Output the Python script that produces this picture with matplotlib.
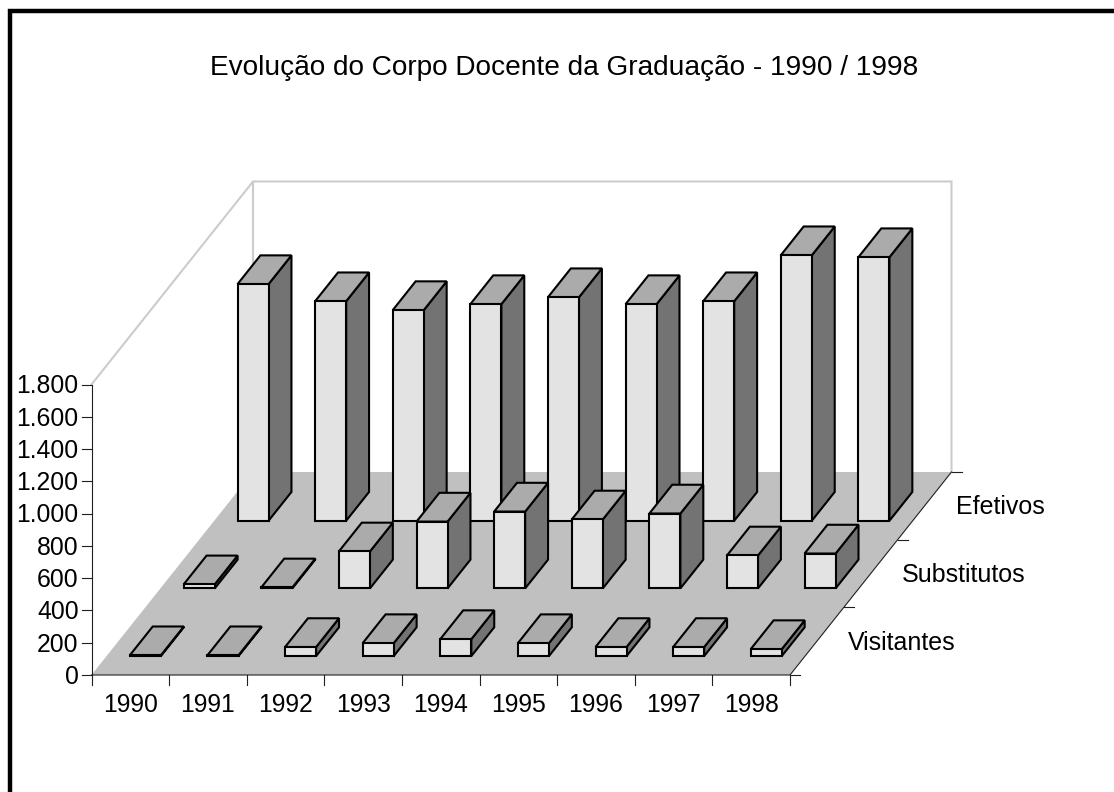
import matplotlib
matplotlib.use("Agg")
import matplotlib.pyplot as plt
from matplotlib.patches import Polygon

plt.rcParams['font.family'] = ['Liberation Sans', 'DejaVu Sans']

TITLE = "Evolução do Corpo Docente da Graduação - 1990 / 1998"
years = ["1990", "1991", "1992", "1993", "1994", "1995", "1996", "1997", "1998"]
series_names = ["Visitantes", "Substitutos", "Efetivos"]
visitantes = [5, 5, 56, 80, 105, 80, 56, 56, 43]
substitutos = [25, 6, 229, 414, 476, 427, 464, 204, 216]
efetivos = [1466, 1360, 1305, 1342, 1385, 1342, 1360, 1645, 1633]
y_ticks = [0, 200, 400, 600, 800, 1000, 1200, 1400, 1600, 1800]
y_tick_labels = ["0", "200", "400", "600", "800", "1.000", "1.200", "1.400", "1.600", "1.800"]
rows = [visitantes, substitutos, efetivos]

W, H = 1114, 792
fig = plt.figure(figsize=(W / 100, H / 100), dpi=100, facecolor="white")
ax = fig.add_axes([0, 0, 1, 1])
ax.set_xlim(0, W)
ax.set_ylim(H, 0)
ax.axis("off")

# oblique projection of (category, series, value) to the canvas
X0, Y0 = 91.5, 675.0
CAT = (790.0 - X0) / len(years)
DX, DY = 161.5 / len(rows), -203.0 / len(rows)
VAL = 290.5 / 1800.0


def proj(c, s, v=0.0):
    return (X0 + c * CAT + s * DX, Y0 + s * DY - v * VAL)


n_c, n_s, vmax = len(years), len(rows), y_ticks[-1]

# outer frame: only the left and top edges fall inside the image
ax.plot([10, 10, W + 5], [H + 5, 10.5, 10.5], color="black", lw=3.2, zorder=1,
        solid_joinstyle="miter")

# walls
wall = "#CCCCCC"
ax.plot(*zip(proj(0, 0, vmax), proj(0, n_s, vmax), proj(n_c, n_s, vmax), proj(n_c, n_s, 0)),
        color=wall, lw=1.5, zorder=1, solid_joinstyle="miter")
ax.plot(*zip(proj(0, n_s, 0), proj(0, n_s, vmax)), color=wall, lw=1.5, zorder=1)

# floor
ax.add_patch(Polygon([proj(0, 0), proj(n_c, 0), proj(n_c, n_s), proj(0, n_s)],
                     closed=True, fc="#C0C0C0", ec="none", zorder=2))

# axes and ticks
axc = "#202020"
ax.plot(*zip(proj(0, 0, 0), proj(0, 0, vmax)), color=axc, lw=0.8, zorder=3)
ax.plot(*zip(proj(0, 0), proj(n_c, 0), proj(n_c, n_s)), color=axc, lw=0.8, zorder=3)
for v, lab in zip(y_ticks, y_tick_labels):
    x, y = proj(0, 0, v)
    ax.plot([x - 10, x], [y, y], color=axc, lw=0.8, zorder=3)
    ax.text(x - 13, y - 0.7, lab, ha="right", va="center_baseline", fontsize=17.8, color="black")
for c in range(n_c + 1):
    x, y = proj(c, 0)
    ax.plot([x, x], [y, y + 10], color=axc, lw=0.8, zorder=3)
for c, lab in enumerate(years):
    x, y = proj(c + 0.5, 0)
    ax.text(x, y + 28, lab, ha="center", va="center_baseline", fontsize=17.8, color="black")
for s in range(n_s + 1):
    x, y = proj(n_c, s)
    ax.plot([x, x + 10], [y, y], color=axc, lw=0.8, zorder=3)
for s, lab in enumerate(series_names):
    x, y = proj(n_c, s + 0.5)
    ax.text(x + 31, y - 1, lab, ha="left", va="center_baseline", fontsize=18, color="black")

# bars, back row first
GAP_C, GAP_S, DEPTH = 0.30, 0.28, 0.425
FRONT, TOP, SIDE = "#E3E3E3", "#ABABAB", "#737373"
kw = dict(closed=True, ec="black", lw=1.5, joinstyle="miter", zorder=4)
for s in reversed(range(n_s)):
    for c, v in enumerate(rows[s]):
        c0, c1 = c + GAP_C, c + 1 - GAP_C
        s0, s1 = s + GAP_S, s + GAP_S + DEPTH
        ax.add_patch(Polygon([proj(c1, s0, 0), proj(c1, s1, 0), proj(c1, s1, v), proj(c1, s0, v)], fc=SIDE, **kw))
        ax.add_patch(Polygon([proj(c0, s0, v), proj(c1, s0, v), proj(c1, s1, v), proj(c0, s1, v)], fc=TOP, **kw))
        ax.add_patch(Polygon([proj(c0, s0, 0), proj(c1, s0, 0), proj(c1, s0, v), proj(c0, s0, v)], fc=FRONT, **kw))

ax.text(564.5, 65, TITLE, ha="center", va="center_baseline", fontsize=20.2, color="black")

fig.savefig("out.png", dpi=100, facecolor="white")
